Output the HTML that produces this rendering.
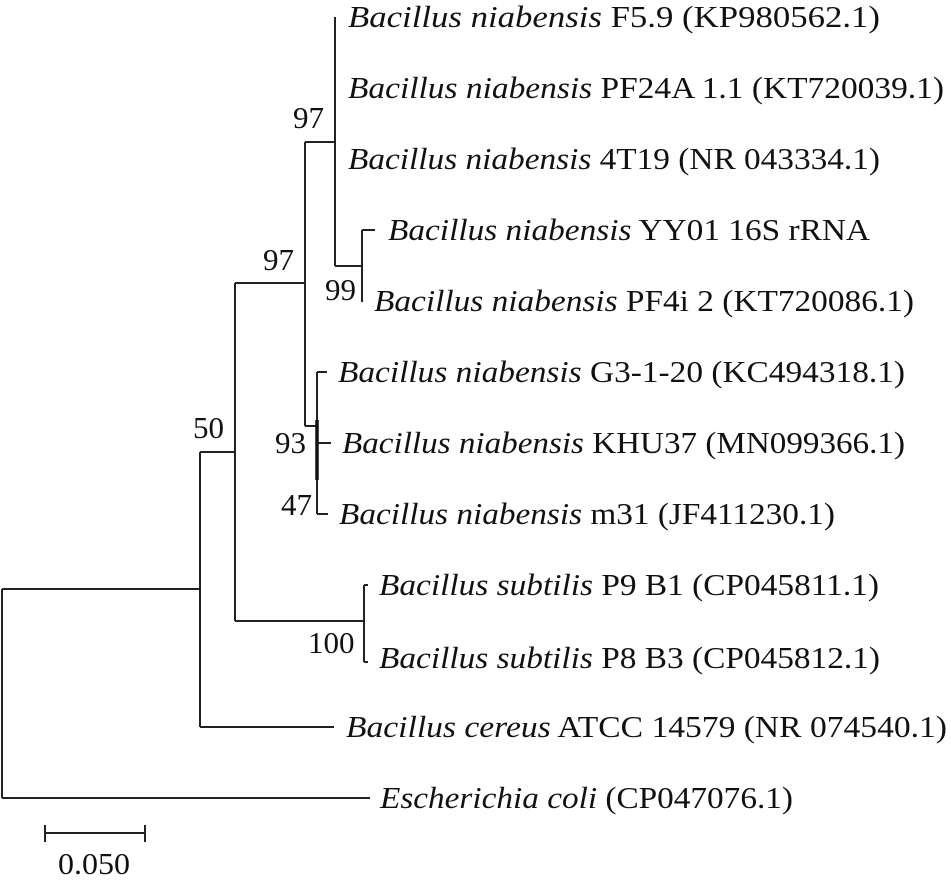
<!DOCTYPE html>
<html><head><meta charset="utf-8"><style>
html,body{margin:0;padding:0;background:#fff;}
svg{display:block;}
text{font-family:"Liberation Serif",serif;font-size:31px;fill:#111;}
</style></head><body>
<svg width="951" height="887" viewBox="0 0 951 887" xmlns="http://www.w3.org/2000/svg">
<g stroke="#222" stroke-width="2" fill="none">
<path d="M2,589 V798"/>
<path d="M2,589 H200"/>
<path d="M2,798 H370"/>
<path d="M200,452 V727"/>
<path d="M200,452 H235"/>
<path d="M200,727 H334"/>
<path d="M235,283 V621"/>
<path d="M235,283 H305"/>
<path d="M235,621 H364"/>
<path d="M364,585 V662"/>
<path d="M364,585 H368"/>
<path d="M364,662 H368"/>
<path d="M305,142 V426"/>
<path d="M305,142 H335"/>
<path d="M305,426 H317"/>
<path d="M335,17 V266"/>
<path d="M335,266 H362"/>
<path d="M362,230 V302"/>
<path d="M362,230 H375"/>
<path d="M317,372 V514"/>
<path d="M317,372 H327"/>
<path d="M317,443 H331"/>
<path d="M317,514 H328"/>
</g>
<path d="M317,420 V480" stroke="#111" stroke-width="3.5"/>
<g stroke="#222" stroke-width="2">
<path d="M45,833 H145"/><path d="M45,825 V842"/><path d="M145,825 V842"/>
</g>
<text x="58" y="874" textLength="72" lengthAdjust="spacingAndGlyphs">0.050</text>
<text x="293" y="128">97</text>
<text x="263" y="270">97</text>
<text x="325" y="300">99</text>
<text x="193" y="438">50</text>
<text x="275" y="453">93</text>
<text x="281" y="515">47</text>
<text x="308" y="653">100</text>
<g>
<text x="348" y="27" textLength="532" lengthAdjust="spacingAndGlyphs"><tspan font-style="italic">Bacillus niabensis</tspan> F5.9 (KP980562.1)</text>
<text x="348" y="98" textLength="596" lengthAdjust="spacingAndGlyphs"><tspan font-style="italic">Bacillus niabensis</tspan> PF24A 1.1 (KT720039.1)</text>
<text x="348" y="169" textLength="532" lengthAdjust="spacingAndGlyphs"><tspan font-style="italic">Bacillus niabensis</tspan> 4T19 (NR 043334.1)</text>
<text x="388" y="240" textLength="482" lengthAdjust="spacingAndGlyphs"><tspan font-style="italic">Bacillus niabensis</tspan> YY01 16S rRNA</text>
<text x="374" y="311" textLength="540" lengthAdjust="spacingAndGlyphs"><tspan font-style="italic">Bacillus niabensis</tspan> PF4i 2 (KT720086.1)</text>
<text x="338" y="382" textLength="567" lengthAdjust="spacingAndGlyphs"><tspan font-style="italic">Bacillus niabensis</tspan> G3-1-20 (KC494318.1)</text>
<text x="342" y="453" textLength="563" lengthAdjust="spacingAndGlyphs"><tspan font-style="italic">Bacillus niabensis</tspan> KHU37 (MN099366.1)</text>
<text x="339" y="524" textLength="496" lengthAdjust="spacingAndGlyphs"><tspan font-style="italic">Bacillus niabensis</tspan> m31 (JF411230.1)</text>
<text x="379" y="595" textLength="500" lengthAdjust="spacingAndGlyphs"><tspan font-style="italic">Bacillus subtilis</tspan> P9 B1 (CP045811.1)</text>
<text x="379" y="668" textLength="501" lengthAdjust="spacingAndGlyphs"><tspan font-style="italic">Bacillus subtilis</tspan> P8 B3 (CP045812.1)</text>
<text x="346" y="737" textLength="601" lengthAdjust="spacingAndGlyphs"><tspan font-style="italic">Bacillus cereus</tspan> ATCC 14579 (NR 074540.1)</text>
<text x="380" y="808" textLength="413" lengthAdjust="spacingAndGlyphs"><tspan font-style="italic">Escherichia coli</tspan> (CP047076.1)</text>
</g>
</svg>
</body></html>
